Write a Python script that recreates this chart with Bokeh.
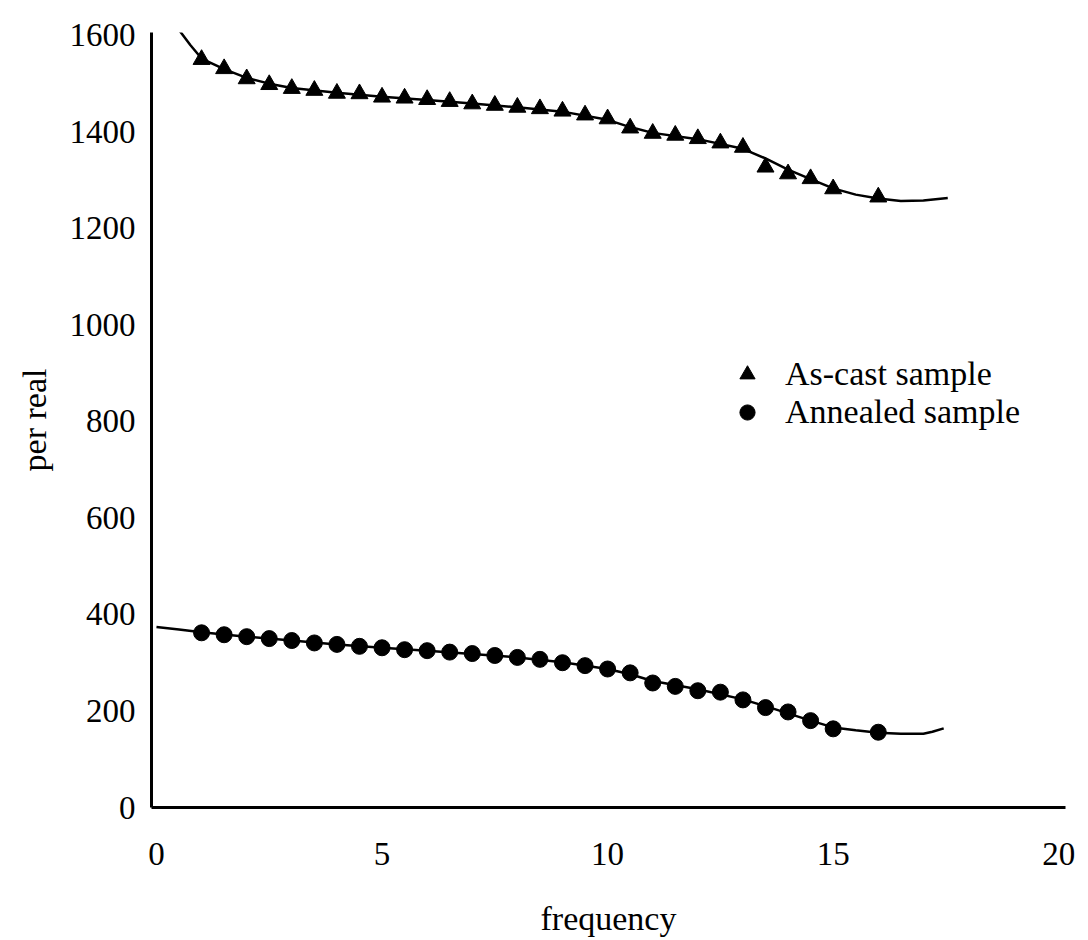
from bokeh.plotting import figure
from bokeh.models import Range1d, FixedTicker, Legend, LegendItem
from bokeh.embed import file_html
from bokeh.resources import INLINE

# ---- data ----
freq = [1, 1.5, 2, 2.5, 3, 3.5, 4, 4.5, 5, 5.5, 6, 6.5, 7, 7.5, 8, 8.5,
        9, 9.5, 10, 10.5, 11, 11.5, 12, 12.5, 13, 13.5, 14, 14.5, 15, 16]

as_cast = [1550, 1531, 1510, 1498, 1490, 1486, 1480, 1479, 1472, 1470, 1467,
           1463, 1458, 1455, 1451, 1448, 1443, 1435, 1427, 1408, 1397, 1393,
           1386, 1377, 1368, 1327, 1313, 1303, 1282, 1265]

annealed = [362, 358, 354, 350, 346, 341, 338, 334, 331, 327, 325, 322, 319,
            315, 311, 307, 300, 294, 287, 279, 258, 251, 242, 239, 223, 207,
            198, 180, 163, 156]

# smooth fitted curves
as_cast_curve_x = [0.51, 0.75, 1.0, 1.5, 2.0, 2.5, 3.0, 4.0, 5.0, 6.0, 7.0,
                   8.0, 9.0, 10.0, 10.5, 11.0, 12.0, 13.0, 13.5, 14.0, 14.5,
                   15.0, 15.5, 16.0, 16.5, 17.0, 17.54]
as_cast_curve_y = [1610, 1580, 1552, 1530, 1512, 1500, 1491, 1481, 1473, 1466,
                   1459, 1451, 1442, 1425, 1410, 1398, 1385, 1365, 1345, 1322,
                   1302, 1283, 1270, 1262, 1257, 1258, 1263]

annealed_curve_x = [0.0, 0.5, 1.0, 2.0, 3.0, 4.0, 5.0, 6.0, 7.0, 8.0, 9.0,
                    10.0, 10.5, 11.0, 12.0, 13.0, 13.5, 14.0, 14.5, 15.0, 15.5,
                    16.0, 16.5, 17.0, 17.2, 17.45]
annealed_curve_y = [374, 369, 363, 354, 346, 338, 331, 325, 318, 311, 301,
                    287, 276, 262, 245, 224, 210, 195, 180, 166, 160, 155, 153,
                    153, 157, 164]

x_ticks = [0, 5, 10, 15, 20]
y_ticks = [0, 200, 400, 600, 800, 1000, 1200, 1400, 1600]

x_label = "frequency"
y_label = "per real"
legend_labels = ["As-cast sample", "Annealed sample"]

FONT = "Liberation Serif"

p = figure(width=1088, height=940, output_backend="svg", toolbar_location=None,
           x_range=Range1d(-0.11, 20.15), y_range=Range1d(0, 1606),
           min_border_left=151, min_border_right=23, min_border_top=32,
           min_border_bottom=133)
p.xgrid.visible = False
p.ygrid.visible = False
p.outline_line_color = None
p.background_fill_color = "white"
p.border_fill_color = "white"

p.xaxis.ticker = FixedTicker(ticks=x_ticks)
p.yaxis.ticker = FixedTicker(ticks=y_ticks)
for ax in (p.xaxis, p.yaxis):
    ax.axis_line_width = 3
    ax.axis_line_color = "black"
    ax.major_tick_line_color = None
    ax.minor_tick_line_color = None
    ax.major_tick_out = 0
    ax.major_tick_in = 0
    ax.major_label_text_font = FONT
    ax.major_label_text_font_size = "33px"
    ax.major_label_text_color = "black"
    ax.major_label_text_line_height = 0.9
    ax.axis_label_text_font = FONT
    ax.axis_label_text_font_size = "34px"
    ax.axis_label_text_font_style = "normal"
    ax.axis_label_text_color = "black"
    ax.axis_label_text_line_height = 0.9

p.xaxis.major_label_standoff = 35
p.xaxis.axis_label_standoff = 32
p.yaxis.major_label_standoff = 16
p.yaxis.axis_label_standoff = 14
p.xaxis.axis_label = x_label
p.yaxis.axis_label = y_label

p.line(as_cast_curve_x, as_cast_curve_y, line_color="black", line_width=2.5)
p.line(annealed_curve_x, annealed_curve_y, line_color="black", line_width=2.5)

r_tri = p.scatter(freq, as_cast, marker="triangle", size=17,
                  fill_color="black", line_color="black")
r_cir = p.scatter(freq, annealed, marker="circle", size=16,
                  fill_color="black", line_color="black")

legend = Legend(items=[LegendItem(label=legend_labels[0], renderers=[r_tri]),
                       LegendItem(label=legend_labels[1], renderers=[r_cir])],
                location=(573, 376), orientation="vertical",
                glyph_width=46, glyph_height=38, label_height=37,
                spacing=0, padding=0, margin=0, label_standoff=15,
                border_line_color=None, background_fill_alpha=0,
                label_text_font=FONT, label_text_font_size="34px",
                label_text_color="black")
p.add_layout(legend, "center")

open("out.html", "w").write(file_html(p, INLINE))
